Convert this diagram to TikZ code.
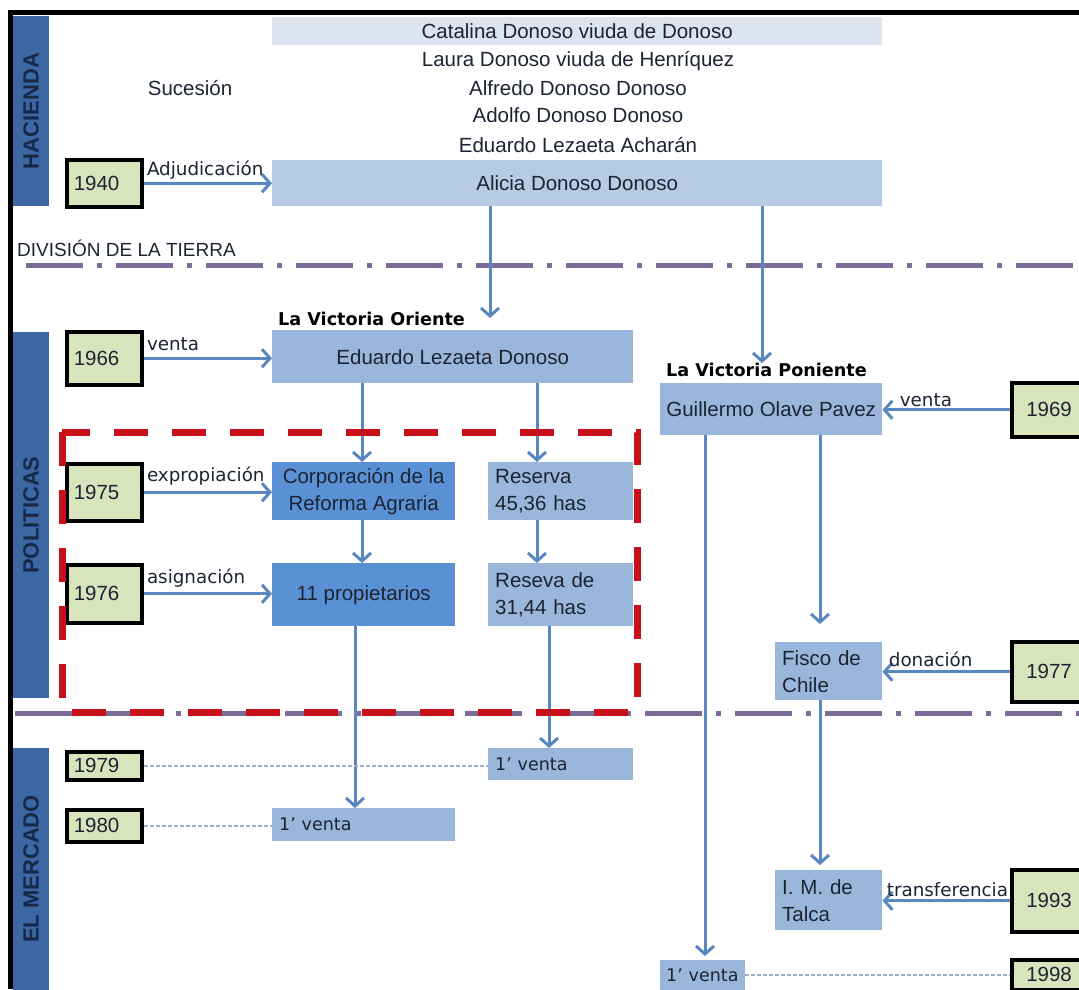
\documentclass[tikz,border=0pt]{standalone}
\usepackage{fontspec}
\setmainfont{Liberation Sans}
\newfontfamily\lblfont{DejaVu Sans}
\usetikzlibrary{arrows.meta}
\definecolor{barblue}{HTML}{3D67A3}
\definecolor{bartext}{HTML}{16294A}
\definecolor{boxmid}{HTML}{9AB6DA}
\definecolor{boxdark}{HTML}{5A90D4}
\definecolor{boxlight}{HTML}{B7CBE5}
\definecolor{boxpale}{HTML}{DDE4EF}
\definecolor{yearfill}{HTML}{D8E4BC}
\definecolor{arrowc}{HTML}{5A87BF}
\definecolor{divline}{HTML}{7D6B9A}
\definecolor{reddash}{HTML}{C8101A}
\definecolor{dotc}{HTML}{9AAFC9}
\definecolor{txt}{HTML}{1C2434}
\newcommand\boxf{\fontsize{20.5}{27}\selectfont}
\newcommand\lblf{\lblfont\fontsize{18.3}{21}\selectfont}
\newcommand\ventaf{\lblfont\fontsize{17.5}{21}\selectfont}
\newcommand\hdrf{\lblfont\bfseries\fontsize{17.6}{20}\selectfont}
\newcommand\secf{\bfseries\fontsize{22}{24}\selectfont}
\tikzset{
  rbox/.style={rectangle, inner sep=0pt, anchor=north west, font=\boxf, text=txt, align=center},
  lbox/.style={rbox, align=left},
  year/.style={draw=black, line width=3.5pt, fill=yearfill, anchor=north west,
    minimum width=75pt, text width=61pt, align=left, inner sep=0pt, font=\boxf, text=txt},
  lbl/.style={font=\lblf, text=txt, inner sep=2pt},
  arr/.style={draw=arrowc, line width=3pt, -{Straight Barb[length=8pt,width=18pt]}},
  dotl/.style={draw=dotc, line width=1.5pt, dash pattern=on 4pt off 2pt},
  divl/.style={draw=divline, line width=5pt, dash pattern=on 57pt off 14pt on 5pt off 14pt},
  redl/.style={draw=reddash, line width=7pt, dash pattern=on 34pt off 24pt},
  sect/.style={font=\secf, text=bartext, rotate=90},
}
\begin{document}
\begin{tikzpicture}[x=1pt,y=-1pt]
\useasboundingbox (0,0) rectangle (1079,989);
\clip (0,0) rectangle (1079,989);
\fill[white] (0,0) rectangle (1079,989);

% section bars
\fill[barblue] (13,16) rectangle (49,206);
\fill[barblue] (13,332) rectangle (49,698);
\fill[barblue] (13,748) rectangle (49,995);
\node[sect] (hac) at (31,111) {HACIENDA};
\node[sect] (pol) at (31,515) {POLITICAS};
\node[sect] (mer) at (31,869) {EL MERCADO};

% division lines
\draw[divl] (26,265) -- (1079,265);
\draw[divl] (15,713) -- (1079,713);
\node[font=\fontsize{19}{21}\selectfont, text=txt, anchor=base west, inner sep=0pt] (div) at (17,256) {DIVISIÓN DE LA TIERRA};

% top: succession
\node[rbox, fill=boxpale, minimum width=610pt, minimum height=28pt] (cat) at (272,17) {Catalina Donoso viuda de Donoso};
\node[font=\boxf, text=txt] (lau) at (578,61) {Laura Donoso viuda de Henríquez};
\node[font=\boxf, text=txt] (alf) at (578,88) {Alfredo Donoso Donoso};
\node[font=\boxf, text=txt] (ado) at (578,115) {Adolfo Donoso Donoso};
\node[font=\boxf, text=txt] (edu) at (578,145) {Eduardo Lezaeta Acharán};
\node[font=\boxf, text=txt] (suc) at (190,88) {Sucesión};
\node[rbox, fill=boxlight, minimum width=610pt, minimum height=46pt] (ali) at (272,160) {Alicia Donoso Donoso};
\node[year, minimum height=47pt] (y1940) at (65,158) {1940};

% La Victoria Oriente
\node[font=\hdrf, anchor=base west, inner sep=0pt] (vo) at (278,325) {La Victoria Oriente};
\node[rbox, fill=boxmid, minimum width=361pt, minimum height=53pt] (eld) at (272,330) {Eduardo Lezaeta Donoso};
\node[year, minimum height=53pt] (y1966) at (65,330) {1966};
\node[rbox, fill=boxdark, minimum width=183pt, minimum height=58pt] (corp) at (272,462) {Corporación de la\\Reforma Agraria};
\node[lbox, fill=boxmid, minimum width=145pt, minimum height=58pt, text width=131pt] (res1) at (488,462) {Reserva\\45,36 has};
\node[year, minimum height=57pt] (y1975) at (65,462) {1975};
\node[rbox, fill=boxdark, minimum width=183pt, minimum height=63pt] (prop) at (272,563) {11 propietarios};
\node[lbox, fill=boxmid, minimum width=145pt, minimum height=63pt, text width=131pt] (res2) at (488,563) {Reseva de\\31,44 has};
\node[year, minimum height=58pt] (y1976) at (65,563) {1976};

% market
\node[lbox, fill=boxmid, minimum width=145pt, minimum height=32pt, text width=131pt, font=\ventaf] (v79) at (488,748) {1’ venta};
\node[year, minimum height=28pt] (y1979) at (65,750) {1979};
\node[lbox, fill=boxmid, minimum width=183pt, minimum height=33pt, text width=169pt, font=\ventaf] (v80) at (272,808) {1’ venta};
\node[year, minimum height=32pt] (y1980) at (65,808) {1980};

% La Victoria Poniente
\node[font=\hdrf, anchor=base west, inner sep=0pt] (vp) at (666,376) {La Victoria Poniente};
\node[rbox, fill=boxmid, minimum width=222pt, minimum height=52pt] (gop) at (660,383) {Guillermo Olave Pavez};
\node[year, minimum width=90pt, minimum height=54pt] (y1969) at (1010,381) {1969};
\node[lbox, fill=boxmid, minimum width=107pt, minimum height=58pt, text width=93pt] (fis) at (775,642) {Fisco de\\Chile};
\node[year, minimum width=90pt, minimum height=60pt] (y1977) at (1010,640) {1977};
\node[lbox, fill=boxmid, minimum width=107pt, minimum height=60pt, text width=93pt] (imt) at (775,870) {I. M. de\\Talca};
\node[year, minimum width=90pt, minimum height=62pt] (y1993) at (1010,868) {1993};
\node[lbox, fill=boxmid, minimum width=85pt, minimum height=30pt, text width=73pt, font=\ventaf] (v98) at (660,960) {1’ venta};
\node[year, minimum width=90pt, minimum height=30pt] (y1998) at (1010,958) {1998};

% x guides
\coordinate (x490) at (490,0);
\coordinate (x762) at (762,0);
\coordinate (x362) at (362,0);
\coordinate (x355) at (355,0);
\coordinate (x537) at (537,0);
\coordinate (x549) at (549,0);
\coordinate (x705) at (705,0);
\coordinate (x820) at (820,0);

% vertical arrows
\draw[arr, shorten >=12pt] (ali.south -| x490) -- (eld.north -| x490);
\draw[arr, shorten >=20pt] (ali.south -| x762) -- (gop.north -| x762);
\draw[arr] (eld.south -| x362) -- (corp.north -| x362);
\draw[arr] (eld.south -| x537) -- (res1.north -| x537);
\draw[arr] (corp.south -| x362) -- (prop.north -| x362);
\draw[arr] (res1.south -| x537) -- (res2.north -| x537);
\draw[arr] (prop.south -| x355) -- (v80.north -| x355);
\draw[arr] (res2.south -| x549) -- (v79.north -| x549);
\draw[arr, shorten >=18pt] (gop.south -| x820) -- (fis.north -| x820);
\draw[arr, shorten >=4pt] (gop.south -| x705) -- (v98.north -| x705);
\draw[arr, shorten >=5pt] (fis.south -| x820) -- (imt.north -| x820);

% horizontal arrows with labels
\draw[arr] (y1940.east) -- node[lbl, at start, anchor=south west] {Adjudicación} (y1940.east -| ali.west);
\draw[arr] (y1966.east) -- node[lbl, at start, anchor=south west, yshift=4pt] {venta} (y1966.east -| eld.west);
\draw[arr] (y1975.east) -- node[lbl, at start, anchor=south west, yshift=3pt] {expropiación} (y1975.east -| corp.west);
\draw[arr] (y1976.east) -- node[lbl, at start, anchor=south west, yshift=3pt] {asignación} (y1976.east -| prop.west);
\draw[arr] (y1969.west) -- node[lbl, at end, anchor=south west, xshift=14pt] {venta} (y1969.west -| gop.east);
\draw[arr] (y1977.west) -- node[lbl, at end, anchor=south west, xshift=3pt, yshift=2pt] {donación} (y1977.west -| fis.east);
\draw[arr] (y1993.west) -- node[lbl, at end, anchor=south west, xshift=1pt, yshift=1pt] {transferencia} (y1993.west -| imt.east);

% dotted links
\draw[dotl] (y1979.east) -- (y1979.east -| v79.west);
\draw[dotl] (y1980.east) -- (y1980.east -| v80.west);
\draw[dotl] (v98.east) -- (v98.east -| y1998.west);

% red dashed frame
\draw[redl] (62,432) rectangle (637,712);

% outer frame
\draw[line width=5pt] (8,12.5) -- (1079,12.5);
\draw[line width=5pt] (10.5,10) -- (10.5,989);
\end{tikzpicture}
\end{document}
